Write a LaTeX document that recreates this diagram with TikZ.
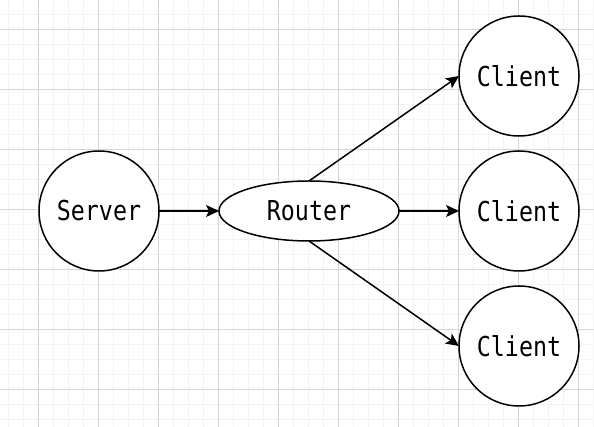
\documentclass[tikz,border=0pt]{standalone}
\usepackage{fontspec}
\usetikzlibrary{positioning,arrows.meta,shapes.geometric}

\newfontfamily\labelfont{DejaVu Sans Mono}[FakeStretch=0.85]
\definecolor{gridmajor}{RGB}{214,214,214}
\definecolor{gridminor}{RGB}{244,244,244}

\tikzset{
    host/.style={circle, draw, line width=1.5pt, fill=white, minimum size=120pt, inner sep=0pt, outer sep=0pt,
        font=\labelfont\fontsize{27.4pt}{30pt}\selectfont},
    hub/.style={ellipse, draw, line width=1.5pt, fill=white, minimum width=180pt, minimum height=60pt,
        inner sep=0pt, outer sep=0pt, font=\labelfont\fontsize{27.4pt}{30pt}\selectfont},
    link/.style={line width=1.5pt, -{Stealth[length=13pt, width=12pt, inset=3pt]}}
}

\begin{document}
\begin{tikzpicture}[x=1pt, y=1pt]
    \useasboundingbox (0,0) rectangle (594,427);
    \fill[white] (0,0) rectangle (594,427);
    % background grid
    \foreach \gx in {8,23,...,594} \draw[gridminor, line width=1pt] (\gx,0) -- (\gx,427);
    \foreach \gy in {7,22,...,427} \draw[gridminor, line width=1pt] (0,\gy) -- (594,\gy);
    \foreach \gx in {38,98,...,594} \draw[gridmajor, line width=1pt] (\gx,0) -- (\gx,427);
    \foreach \gy in {37,97,...,427} \draw[gridmajor, line width=1pt] (0,\gy) -- (594,\gy);

    \node[host] (server) at (99,216) {Server};
    \node[hub, right=60pt of server] (router) {Router};
    \node[host, right=60pt of router] (clientMid) {Client};
    \node[host, above=15pt of clientMid] (clientTop) {Client};
    \node[host, below=15pt of clientMid] (clientBot) {Client};

    \draw[link] (server.east) -- (router.west);
    \draw[link] (router.east) -- (clientMid.west);
    \draw[link] (router.north) -- (clientTop.west);
    \draw[link] (router.south) -- (clientBot.west);
\end{tikzpicture}
\end{document}
